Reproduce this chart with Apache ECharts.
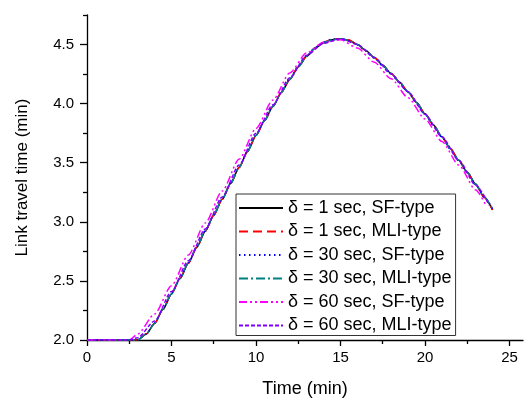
<!DOCTYPE html>
<html><head><meta charset="utf-8">
<script src="https://cdn.jsdelivr.net/npm/echarts@6/dist/echarts.min.js"></script>
<style>html,body{margin:0;padding:0;background:#fff}#c{width:524px;height:403px}</style>
</head><body><div id="c"></div>
<script>
// time axes (min)
var tHalf = [0,0.5,1,1.5,2,2.5,3,3.5,4,4.5,5,5.5,6,6.5,7,7.5,8,8.5,9,9.5,10,10.5,11,11.5,12,12.5,13,13.5,14,14.5,15,15.5,16,16.5,17,17.5,18,18.5,19,19.5,20,20.5,21,21.5,22,22.5,23,23.5,24];
var tMag = [0,1,2,2.5,3,4,5,6,7,8,9,10,11,12,13,14,15,16,17,18,19,20,21,22,23,23.6];
var tPur = [0,1,2,2.5,3,4,5,6,7,8,9,10,11,12,13,14,15,16,17,18,19,20,21,22,23,23.8];

// link travel time (min)
var sf1 = [2,2,2,2,2,2,2,2.05,2.14,2.26,2.39,2.52,2.65,2.785,2.92,3.055,3.19,3.325,3.46,3.595,3.73,3.855,3.975,4.095,4.205,4.31,4.40,4.47,4.515,4.54,4.55,4.535,4.50,4.45,4.39,4.325,4.255,4.18,4.10,4.01,3.915,3.82,3.72,3.62,3.52,3.42,3.32,3.21,3.10];
var mli1 = [2,2,2,2,2,2,2,2.05,2.14,2.26,2.39,2.52,2.65,2.785,2.92,3.055,3.19,3.325,3.46,3.595,3.73,3.855,3.975,4.095,4.205,4.31,4.40,4.47,4.52,4.545,4.55,4.54,4.50,4.45,4.39,4.325,4.255,4.18,4.10,4.01,3.915,3.82,3.72,3.62,3.52,3.42,3.315,3.205,3.10];
var sf30 = [2,2,2,2,2,2,2,2.05,2.145,2.265,2.395,2.525,2.655,2.79,2.925,3.06,3.195,3.33,3.465,3.60,3.735,3.86,3.98,4.10,4.21,4.315,4.405,4.475,4.52,4.545,4.55,4.535,4.495,4.445,4.385,4.32,4.25,4.175,4.095,4.005,3.91,3.815,3.715,3.615,3.515,3.415,3.315,3.21,3.11];
var mli30 = [2,2,2,2,2,2,2,2.05,2.14,2.26,2.39,2.52,2.655,2.79,2.925,3.06,3.19,3.325,3.46,3.595,3.73,3.855,3.975,4.095,4.205,4.31,4.40,4.47,4.515,4.54,4.55,4.535,4.50,4.45,4.39,4.325,4.255,4.18,4.10,4.01,3.915,3.82,3.72,3.62,3.52,3.42,3.32,3.21,3.11];
var sf60 = [2,2,2,2,2.05,2.22,2.46,2.72,2.99,3.26,3.53,3.79,4.03,4.26,4.43,4.52,4.54,4.47,4.35,4.21,4.05,3.87,3.68,3.48,3.27,3.14];
var mli60 = [2,2,2,2,2.02,2.16,2.41,2.67,2.94,3.21,3.48,3.75,3.99,4.22,4.41,4.51,4.55,4.50,4.39,4.25,4.10,3.91,3.72,3.52,3.31,3.14];

var names = ['\u03b4 = 1 sec, SF-type','\u03b4 = 1 sec, MLI-type','\u03b4 = 30 sec, SF-type','\u03b4 = 30 sec, MLI-type','\u03b4 = 60 sec, SF-type','\u03b4 = 60 sec, MLI-type'];
var xMajor = [0,5,10,15,20,25];
var xMinor = [2.5,7.5,12.5,17.5,22.5];
var yMajor = [2.0,2.5,3.0,3.5,4.0,4.5];
var yMinor = [2.25,2.75,3.25,3.75,4.25,4.75];

function pairs(t, v){ var r=[]; for(var i=0;i<v.length;i++) r.push([t[i], v[i]]); return r; }
var FONT = '"Liberation Sans", Arial, sans-serif';

function mk(name, t, v, color, type, w, z){
  return {name:name, type:'line', xAxisIndex:0, yAxisIndex:0, data:pairs(t,v), symbol:'none', showSymbol:false,
    smooth:0.25, smoothMonotone:'x', z:z,
    lineStyle:{color:color, width:w, type:type}, itemStyle:{color:color}};
}

var chart = echarts.init(document.getElementById('c'), null, {renderer:'canvas'});
chart.setOption({
  animation:false,
  backgroundColor:'#fff',
  textStyle:{fontFamily:FONT},
  grid:{left:87, right:1, top:15, bottom:62, containLabel:false},
  xAxis:[{
    type:'value', min:0, max:25.8, position:'bottom',
    name:'Time (min)', nameLocation:'middle', nameGap:40,
    nameTextStyle:{fontSize:18, color:'#000', fontFamily:FONT},
    axisLine:{show:true, onZero:false, lineStyle:{color:'#000', width:1.3}},
    axisTick:{show:true, inside:false, length:6, customValues:xMajor, lineStyle:{color:'#000', width:1.3}},
    axisLabel:{customValues:xMajor, fontSize:15, color:'#000', margin:10, fontFamily:FONT},
    splitLine:{show:false}
  },{
    type:'value', min:0, max:25.8, position:'bottom',
    axisLine:{show:false},
    axisTick:{show:true, inside:false, length:4, customValues:xMinor, lineStyle:{color:'#000', width:1.3}},
    axisLabel:{show:false}, splitLine:{show:false}
  }],
  yAxis:[{
    type:'value', min:2, max:4.75, position:'left',
    name:'Link travel time (min)', nameLocation:'middle', nameGap:56, nameRotate:90,
    nameTextStyle:{fontSize:17, color:'#000', fontFamily:FONT},
    axisLine:{show:true, onZero:false, lineStyle:{color:'#000', width:1.3}},
    axisTick:{show:true, inside:false, length:7, customValues:yMajor, lineStyle:{color:'#000', width:1.3}},
    axisLabel:{customValues:yMajor, fontSize:15, color:'#000', margin:13, fontFamily:FONT,
      formatter:function(v){return v.toFixed(1);}},
    splitLine:{show:false}
  },{
    type:'value', min:2, max:4.75, position:'left',
    axisLine:{show:false},
    axisTick:{show:true, inside:false, length:4, customValues:yMinor, lineStyle:{color:'#000', width:1.3}},
    axisLabel:{show:false}, splitLine:{show:false}
  }],
  legend:{
    orient:'vertical', left:236, top:194, align:'left',
    itemWidth:44, itemHeight:12, itemGap:5.5,
    padding:[5,4,1,2], borderColor:'#333', borderWidth:1, backgroundColor:'#fff',
    itemStyle:{opacity:0},
    textStyle:{fontSize:18, color:'#000', fontFamily:FONT},
    data:names
  },
  series:[
    mk(names[0], tHalf, sf1, '#000000', 'solid', 1.5, 2),
    mk(names[1], tHalf, mli1, '#ff0000', [9,5], 1.5, 3),
    mk(names[2], tHalf, sf30, '#0000ff', [1.5,3.5], 1.5, 4),
    mk(names[3], tHalf, mli30, '#008080', [9,3,2,3], 1.5, 5),
    mk(names[4], tMag, sf60, '#ff00ff', [8,3,2,3,2,3], 1.5, 6),
    mk(names[5], tPur, mli60, '#8000ff', [4,2], 1.5, 7)
  ]
});
</script></body></html>
